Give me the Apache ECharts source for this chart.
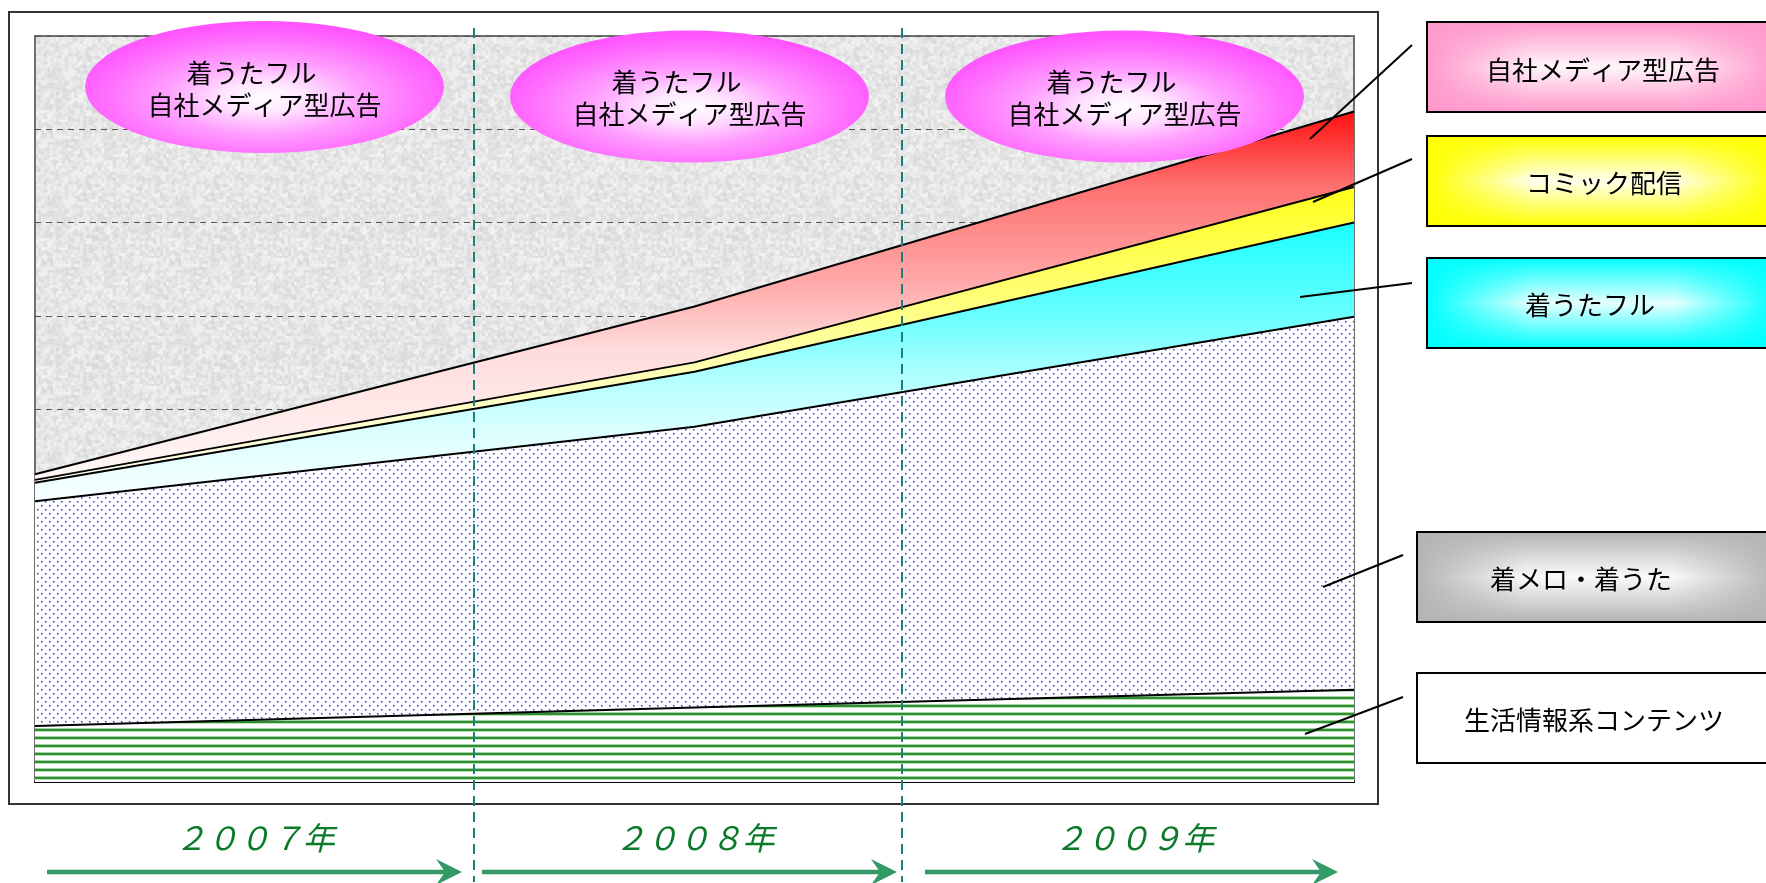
<!DOCTYPE html>
<html><head><meta charset="utf-8">
<script src="https://cdn.jsdelivr.net/npm/echarts@6/dist/echarts.min.js"></script>
<style>html,body{margin:0;padding:0;background:#fff;}#c{width:1766px;height:883px;}</style>
</head><body><div id="c"></div>
<script>
// ---- data ----
const timePoints = ['期首', '中間', '期末'];
const years = ['２００７年', '２００８年', '２００９年'];
const seriesNames = ['生活情報系コンテンツ', '着メロ・着うた', '着うたフル', 'コミック配信', '自社メディア型広告'];
const seikatsu = [0.60, 0.80, 0.99];
const chakumero = [2.41, 3.01, 4.00];
const chakuutaFull = [0.20, 0.59, 1.01];
const comic = [0.03, 0.10, 0.38];
const jisha = [0.06, 0.60, 0.81];
const bubbleLine1 = '着うたフル';
const bubbleLine2 = '自社メディア型広告';

// ---- textures ----
function makeCanvas(w, h, draw) { const c = document.createElement('canvas'); c.width = w; c.height = h; draw(c.getContext('2d'), w, h); return c; }
function hash(x, y) { const s = Math.sin(x * 127.1 + y * 311.7) * 43758.5453; return s - Math.floor(s); }
const bgTexture = makeCanvas(128, 128, (g, w, h) => {
  const img = g.createImageData(w, h); const cell = 3, n = Math.round(w / cell);
  for (let y = 0; y < h; y++) for (let x = 0; x < w; x++) {
    const cx = x / cell, cy = y / cell, x0 = Math.floor(cx), y0 = Math.floor(cy);
    const fx = cx - x0, fy = cy - y0;
    const a = hash(x0 % n, y0 % n), b = hash((x0 + 1) % n, y0 % n), c = hash(x0 % n, (y0 + 1) % n), d = hash((x0 + 1) % n, (y0 + 1) % n);
    const sx = fx * fx * (3 - 2 * fx), sy = fy * fy * (3 - 2 * fy);
    const v1 = a + (b - a) * sx + (c - a) * sy + (a - b - c + d) * sx * sy;
    const v2 = hash(x + 1000, y + 2000);
    let v = 230 + 28 * (v1 - 0.5) + 12 * (v2 - 0.5);
    v = Math.max(0, Math.min(255, v));
    const i = (y * w + x) * 4; img.data[i] = v; img.data[i + 1] = v; img.data[i + 2] = v; img.data[i + 3] = 255;
  }
  g.putImageData(img, 0, 0);
});
const stripeTexture = makeCanvas(8, 8, (g) => {
  g.fillStyle = '#ffffff'; g.fillRect(0, 0, 8, 8);
  g.fillStyle = '#9fd39f'; g.fillRect(0, 0, 8, 1);
  g.fillStyle = '#2e8f2e'; g.fillRect(0, 1, 8, 2);
  g.fillStyle = '#b8dfb8'; g.fillRect(0, 3, 8, 1);
});
const dotTexture = makeCanvas(8, 8, (g) => {
  g.fillStyle = '#ffffff'; g.fillRect(0, 0, 8, 8);
  [[1, 1], [5, 5]].forEach(p => {
    g.fillStyle = '#2a2aff'; g.fillRect(p[0], p[1], 1, 1);
    g.fillStyle = '#9a9aff'; g.fillRect(p[0] + 1, p[1], 1, 1); g.fillRect(p[0], p[1] + 1, 1, 1);
    g.fillStyle = '#cfcfff'; g.fillRect(p[0] + 1, p[1] + 1, 1, 1);
  });
});
function vgrad(stops) { return { type: 'linear', x: 0, y: 0, x2: 0, y2: 1, colorStops: stops.map(s => ({ offset: s[0], color: s[1] })) }; }

const FONT = '"Noto Sans CJK JP", "Noto Sans", sans-serif';
const chart = echarts.init(document.getElementById('c'), null, { renderer: 'canvas', width: 1766, height: 883 });

const areaStyles = [
  { color: { image: stripeTexture, repeat: 'repeat' }, opacity: 1 },
  { color: { image: dotTexture, repeat: 'repeat' }, opacity: 1 },
  { color: vgrad([[0, '#1affff'], [0.34, '#6affff'], [0.55, '#b0ffff'], [0.75, '#dcffff'], [1, '#f8ffff']]), opacity: 1 },
  { color: vgrad([[0, '#ffff18'], [0.15, '#ffff40'], [0.6, '#ffffb0'], [1, '#fffff2']]), opacity: 1 },
  { color: vgrad([[0, '#ff1010'], [0.2, '#ff7070'], [0.46, '#ffa8a8'], [0.65, '#ffdcdc'], [1, '#fff8f8']]), opacity: 1 }
];
const seriesData = [seikatsu, chakumero, chakuutaFull, comic, jisha];

chart.setOption({
  animation: false,
  grid: { left: 35, right: 412, top: 36, bottom: 101, show: true, backgroundColor: { image: bgTexture, repeat: 'repeat' }, borderColor: '#707070', borderWidth: 2 },
  xAxis: [
    { type: 'category', data: timePoints, boundaryGap: false, axisLine: { show: true, onZero: false, lineStyle: { color: '#000', width: 2 } }, axisTick: { show: false }, axisLabel: { show: false }, splitLine: { show: false } },
    { type: 'category', data: years, boundaryGap: true, position: 'bottom', axisLine: { show: false }, axisTick: { show: false }, splitLine: { show: false },
      axisLabel: { margin: 40, fontSize: 32, fontStyle: 'italic', color: '#0b7a2a', fontFamily: FONT } }
  ],
  yAxis: { type: 'value', min: 0, max: 8, interval: 1, axisLine: { show: false }, axisTick: { show: false }, axisLabel: { show: false },
    splitLine: { show: true, lineStyle: { color: '#555', width: 1, type: [6, 5] } } },
  series: seriesNames.map((name, k) => ({
    type: 'line', name, stack: 'total', xAxisIndex: 0, symbol: 'none', showSymbol: false, silent: true,
    data: seriesData[k],
    lineStyle: { color: '#000', width: 2 },
    areaStyle: areaStyles[k]
  }))
});

// ---- decorations (layout only) ----
const dividerX = [474, 902];
const bubbleLayout = [{ cx: 264.5, cy: 87 }, { cx: 689.5, cy: 96.5 }, { cx: 1124.5, cy: 96.5 }];
const legendLayout = [
  { idx: 4, x: 1427, y: 22, w: 352, edge: [255, 153, 204], center: '#fff4fa', tx: 1603, ty: 70, from: [1412, 45], to: [1310, 139] },
  { idx: 3, x: 1427, y: 136, w: 352, edge: [255, 255, 0], center: '#ffffee', tx: 1604, ty: 183, from: [1412, 159], to: [1313, 202] },
  { idx: 2, x: 1427, y: 258, w: 352, edge: [0, 255, 255], center: '#e6ffff', tx: 1590, ty: 305, from: [1412, 283], to: [1300, 297] },
  { idx: 1, x: 1417, y: 532, w: 362, edge: [180, 180, 180], center: '#fafafa', tx: 1581, ty: 579, from: [1403, 555], to: [1323, 587] },
  { idx: 0, x: 1417, y: 673, w: 362, edge: null, center: '#ffffff', tx: 1594, ty: 720, from: [1403, 697], to: [1305, 734] }
];
const arrowSpans = [[47, 462], [482, 897], [925, 1338]];
const arrowY = 872;

const els = [];
els.push({ type: 'rect', z: 1, shape: { x: 9, y: 12, width: 1369, height: 792 }, style: { fill: 'none', stroke: '#333', lineWidth: 2 } });
dividerX.forEach(px => {
  els.push({ type: 'line', z: 50, shape: { x1: px, y1: 28, x2: px, y2: 882 }, style: { stroke: '#18807f', lineWidth: 2, lineDash: [10, 6] } });
});
bubbleLayout.forEach(b => {
  const rx = 179.5, ry = 66;
  els.push({ type: 'circle', z: 60, x: b.cx, y: b.cy, scaleX: rx / ry, shape: { cx: 0, cy: 0, r: ry },
    style: { fill: { type: 'radial', x: 0.5, y: 0.58, r: 0.55, colorStops: [
      { offset: 0, color: '#ffffff' }, { offset: 0.2, color: '#ffe6ff' }, { offset: 0.5, color: '#ffa0ff' }, { offset: 0.8, color: '#ff70ff' }, { offset: 1, color: '#ff55ff' }] } } });
  els.push({ type: 'text', z: 61, style: { text: bubbleLine1, x: b.cx - 13, y: b.cy - 14, font: '26px ' + FONT, fill: '#000', textAlign: 'center', textVerticalAlign: 'middle' } });
  els.push({ type: 'text', z: 61, style: { text: bubbleLine2, x: b.cx, y: b.cy + 18, font: '26px ' + FONT, fill: '#000', textAlign: 'center', textVerticalAlign: 'middle' } });
});
legendLayout.forEach(L => {
  const h = 90;
  if (L.edge) {
    const e = L.edge, c1 = 'rgba(' + e.join(',') + ',1)', c0 = 'rgba(' + e.join(',') + ',0)';
    els.push({ type: 'rect', z: 70, shape: { x: L.x, y: L.y, width: L.w, height: h },
      style: { fill: { type: 'linear', x: 0, y: 0, x2: 0, y2: 1, colorStops: [{ offset: 0, color: c1 }, { offset: 0.5, color: L.center }, { offset: 1, color: c1 }] } } });
    els.push({ type: 'rect', z: 71, shape: { x: L.x, y: L.y, width: L.w, height: h },
      style: { fill: { type: 'linear', x: 0, y: 0, x2: 1, y2: 0, colorStops: [{ offset: 0, color: c1 }, { offset: 0.3, color: c0 }, { offset: 0.7, color: c0 }, { offset: 1, color: c1 }] } } });
  }
  els.push({ type: 'rect', z: 72, shape: { x: L.x, y: L.y, width: L.w, height: h }, style: { fill: L.edge ? 'none' : '#fff', stroke: '#000', lineWidth: 2 } });
  els.push({ type: 'text', z: 73, style: { text: seriesNames[L.idx], x: L.tx, y: L.ty, font: '26px ' + FONT, fill: '#000', textAlign: 'center', textVerticalAlign: 'middle' } });
  els.push({ type: 'line', z: 80, shape: { x1: L.from[0], y1: L.from[1], x2: L.to[0], y2: L.to[1] }, style: { stroke: '#000', lineWidth: 2 } });
});
arrowSpans.forEach(s => {
  const tip = s[1];
  els.push({ type: 'line', z: 40, shape: { x1: s[0], y1: arrowY, x2: tip - 16, y2: arrowY }, style: { stroke: '#339966', lineWidth: 4.5 } });
  els.push({ type: 'polygon', z: 41, shape: { points: [[tip, arrowY], [tip - 26, arrowY - 13], [tip - 17, arrowY], [tip - 26, arrowY + 13]] }, style: { fill: '#339966' } });
});
chart.setOption({ graphic: { elements: els } });
</script>
</body></html>
